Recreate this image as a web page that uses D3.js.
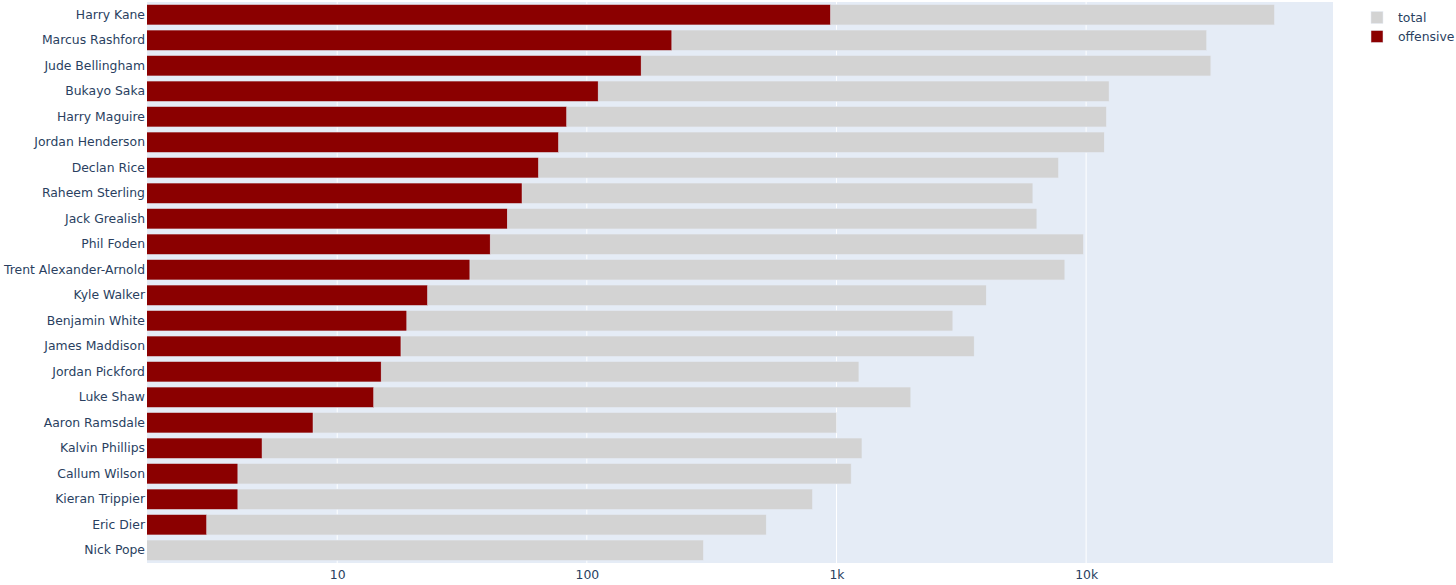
<!DOCTYPE html>
<html>
<head>
<meta charset="utf-8">
<script src="https://cdn.jsdelivr.net/npm/d3@7"></script>
<style>
  html, body { margin: 0; padding: 0; background: #fff; }
  svg { display: block; font-family: "DejaVu Sans", Verdana, sans-serif; }
</style>
</head>
<body>
<svg id="chart" width="1456" height="585"></svg>
<script>
const players = ["Harry Kane","Marcus Rashford","Jude Bellingham","Bukayo Saka","Harry Maguire","Jordan Henderson","Declan Rice","Raheem Sterling","Jack Grealish","Phil Foden","Trent Alexander-Arnold","Kyle Walker","Benjamin White","James Maddison","Jordan Pickford","Luke Shaw","Aaron Ramsdale","Kalvin Phillips","Callum Wilson","Kieran Trippier","Eric Dier","Nick Pope"];
const totalValues = [56800, 30400, 31600, 12360, 12060, 11820, 7750, 6120, 6350, 9750, 8220, 3980, 2925, 3560, 1230, 1985, 1000, 1265, 1145, 801, 523, 293];
const offensiveValues = [946, 219, 165, 111, 83, 77, 64, 55, 48, 41, 34, 23, 19, 18, 15, 14, 8, 5, 4, 4, 3, 0];
const xTickValues = [10, 100, 1000, 10000];
const xTickLabels = ["10", "100", "1k", "10k"];
const seriesNames = ["total", "offensive"];
const seriesColors = ["#D3D3D3", "#8B0000"];

const FONT = '"DejaVu Sans", Verdana, sans-serif';
const FS = "12.4px";
const svg = d3.select("#chart");
const W = 1456, H = 585;
const m = {left: 147, top: 2, right: W - 1333, bottom: H - 563};
const pw = W - m.left - m.right, ph = H - m.top - m.bottom;
const textColor = "#2a3f5f";

const g = svg.append("g").attr("transform", `translate(${m.left},${m.top})`);
g.append("rect").attr("width", pw).attr("height", ph).attr("fill", "#E5ECF6");

const x = d3.scaleLog().domain([1.73, 97500]).range([0, pw]);
const y = d3.scaleBand().domain(players).range([0, ph]).paddingInner(0.2).paddingOuter(0.1);

// gridlines
g.append("g").selectAll("line").data(xTickValues).join("line")
  .attr("x1", d => x(d)).attr("x2", d => x(d))
  .attr("y1", 0).attr("y2", ph)
  .attr("stroke", "#fff").attr("stroke-width", 1);

svg.append("clipPath").attr("id", "plotclip").append("rect").attr("width", pw).attr("height", ph);
const bars = g.append("g").attr("clip-path", "url(#plotclip)");

function drawSeries(values, color) {
  const data = players.map((p, i) => ({p, v: values[i]})).filter(d => d.v > 0);
  bars.append("g").selectAll("rect").data(data).join("rect")
    .attr("x", -1)
    .attr("y", d => y(d.p))
    .attr("width", d => x(d.v) + 1)
    .attr("height", y.bandwidth())
    .attr("fill", color)
    .attr("stroke", "#E5ECF6")
    .attr("stroke-width", 0.5);
}
drawSeries(totalValues, seriesColors[0]);
drawSeries(offensiveValues, seriesColors[1]);

// y axis labels
const yAxis = d3.axisLeft(y).tickSize(0).tickPadding(2);
const ya = g.append("g").call(yAxis);
ya.select(".domain").remove();
ya.selectAll("text").attr("fill", textColor).style("font-size", FS).style("font-family", FONT);

// x axis labels
const xAxis = d3.axisBottom(x).tickValues(xTickValues).tickFormat((d, i) => xTickLabels[i]).tickSize(0).tickPadding(7);
const xa = g.append("g").attr("transform", `translate(0,${ph})`).call(xAxis);
xa.select(".domain").remove();
xa.selectAll("text").attr("fill", textColor).style("font-size", FS).style("font-family", FONT);

// legend
const lg = svg.append("g").attr("transform", "translate(1371,0)");
seriesNames.forEach((name, i) => {
  const cy = 17.5 + i * 19;
  lg.append("rect").attr("x", 0).attr("y", cy - 6).attr("width", 12).attr("height", 12)
    .attr("fill", seriesColors[i]).attr("stroke", "#E5ECF6").attr("stroke-width", 0.5);
  lg.append("text").attr("x", 27).attr("y", cy + 4.5).text(name)
    .attr("fill", textColor).style("font-size", FS).style("font-family", FONT);
});
</script>
</body>
</html>
